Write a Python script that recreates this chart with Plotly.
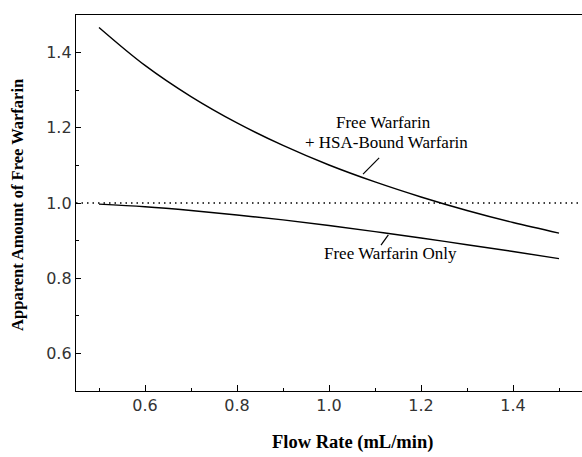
import plotly.graph_objects as go

# Data
flow_rate = [0.5, 0.6, 0.7, 0.8, 0.9, 1.0, 1.1, 1.2, 1.3, 1.4, 1.5]
free_plus_bound = [1.467, 1.366, 1.283, 1.213, 1.153, 1.101, 1.056, 1.016, 0.980, 0.948, 0.92]
free_only = [0.997, 0.99, 0.98, 0.968, 0.955, 0.94, 0.924, 0.907, 0.889, 0.871, 0.852]
ref_level = 1.0
x_range = [0.45, 1.55]
y_range = [0.5, 1.5]
x_ticks = [0.6, 0.8, 1.0, 1.2, 1.4]
x_ticklabels = ["0.6", "0.8", "1.0", "1.2", "1.4"]
y_ticks = [0.6, 0.8, 1.0, 1.2, 1.4]
y_ticklabels = ["0.6", "0.8", "1.0", "1.2", "1.4"]

serif = "Liberation Serif, Times New Roman, serif"
sans = "DejaVu Sans, Arial, sans-serif"

fig = go.Figure()
fig.add_trace(go.Scatter(x=x_range, y=[ref_level, ref_level], mode="lines",
                         line=dict(color="black", width=1.5, dash="1.5px,4px"),
                         showlegend=False, hoverinfo="skip"))
fig.add_trace(go.Scatter(x=flow_rate, y=free_plus_bound, mode="lines",
                         line=dict(color="black", width=1.4, shape="spline"),
                         showlegend=False))
fig.add_trace(go.Scatter(x=flow_rate, y=free_only, mode="lines",
                         line=dict(color="black", width=1.4, shape="spline"),
                         showlegend=False))

# leader lines
fig.add_shape(type="line", x0=1.109, y0=1.12, x1=1.074, y1=1.077,
              line=dict(color="black", width=1.2))
fig.add_shape(type="line", x0=1.129, y0=0.915, x1=1.113, y1=0.888,
              line=dict(color="black", width=1.2))

fig.add_annotation(x=1.118, y=1.213, text="Free Warfarin", showarrow=False,
                   yanchor="middle", font=dict(family=serif, size=17, color="black"))
fig.add_annotation(x=1.126, y=1.16, text="+ HSA-Bound Warfarin", showarrow=False,
                   yanchor="middle", font=dict(family=serif, size=17, color="black"))
fig.add_annotation(x=1.133, y=0.866, text="Free Warfarin Only", showarrow=False,
                   yanchor="middle", font=dict(family=serif, size=17, color="black"))

# axis titles
fig.add_annotation(xref="paper", yref="paper", x=-0.1146, y=0.495,
                   xanchor="center", yanchor="middle",
                   text="<b>Apparent Amount of Free Warfarin</b>", textangle=-90,
                   showarrow=False, font=dict(family=serif, size=16.5, color="black"))
fig.add_annotation(xref="paper", yref="paper", x=0.547, y=-0.138,
                   xanchor="center", yanchor="middle",
                   text="<b>Flow Rate (mL/min)</b>", showarrow=False,
                   font=dict(family=serif, size=18.5, color="black"))

fig.update_xaxes(range=x_range, tickvals=x_ticks, ticktext=x_ticklabels,
                 ticks="inside", ticklen=6, tickwidth=1, tickcolor="black",
                 minor=dict(ticks="inside", ticklen=3, dtick=0.1, tick0=0.5, tickcolor="black"),
                 showline=True, linecolor="black", linewidth=1.3, mirror=True,
                 showgrid=False, zeroline=False,
                 tickfont=dict(family=sans, size=16, color="#333"))
fig.update_yaxes(range=y_range, tickvals=y_ticks, ticktext=y_ticklabels,
                 ticks="inside", ticklen=5, tickwidth=1, tickcolor="black",
                 minor=dict(ticks="inside", ticklen=3, dtick=0.1, tick0=0.5, tickcolor="black"),
                 showline=True, linecolor="black", linewidth=1.3,
                 showgrid=False, zeroline=False,
                 tickfont=dict(family=sans, size=16, color="#333"))

fig.update_layout(width=582, height=457,
                  margin=dict(l=76, r=0, t=15, b=66),
                  paper_bgcolor="white", plot_bgcolor="white")

fig.write_html("out.html")
